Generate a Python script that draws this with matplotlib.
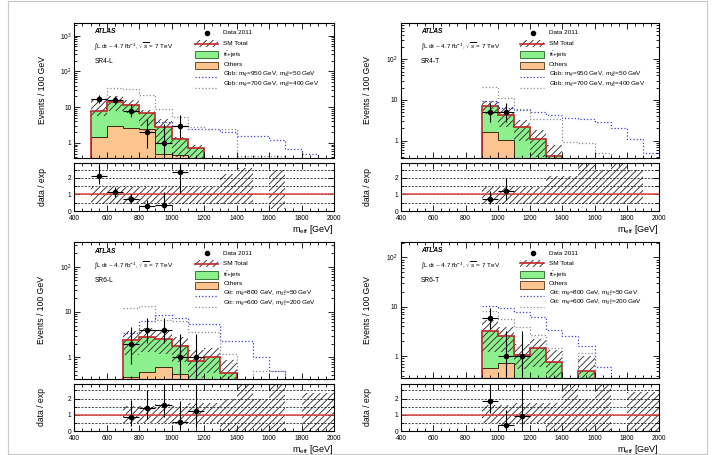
import numpy as np
import matplotlib
matplotlib.use('Agg')
import matplotlib.pyplot as plt
from matplotlib.patches import Rectangle
from matplotlib.ticker import FixedLocator, NullFormatter, MultipleLocator, LogLocator, FuncFormatter

plt.rcParams['font.family'] = ['Liberation Sans', 'DejaVu Sans']
plt.rcParams['mathtext.fontset'] = 'custom'
plt.rcParams['mathtext.rm'] = 'Liberation Sans'
plt.rcParams['mathtext.it'] = 'Liberation Sans:italic'
plt.rcParams['mathtext.bf'] = 'Liberation Sans:bold'
plt.rcParams['hatch.linewidth'] = 0.65

nan = float('nan')
bin_edges = list(range(400, 2001, 100))   # 16 bins of 100 GeV

# ---------------- SR4-L ----------------
sr4l_others = [0, 1.5, 2.9, 2.7, 2.4, 0.5, 0.45, 0, 0, 0, 0, 0, 0, 0, 0, 0]
sr4l_ttbar = [0, 6.5, 11.4, 8.8, 4.3, 2.35, 0.82, 0.71, 0, 0, 0, 0, 0, 0, 0, 0]
sr4l_band_hi = [nan, 16, 21, 16, 8.5, 4.6, 1.45, 0.88, nan, nan, nan, nan, nan, nan, nan, nan]
sr4l_band_lo = [nan, 5.5, 8.0, 6.8, 3.0, 1.0, 0.4, 0.2, nan, nan, nan, nan, nan, nan, nan, nan]
sr4l_data_x = [550, 650, 750, 850, 950, 1050]
sr4l_data_y = [17, 16, 8, 2, 1, 3]
sr4l_err_lo = [4.08, 3.96, 2.77, 1.29, 0.83, 1.63]
sr4l_err_hi = [5.2, 5.1, 3.94, 2.64, 2.3, 2.92]
sr4l_sig1 = [nan, nan, nan, nan, nan, 3.9, 3.0, 2.5, 2.4, 2.0, 1.6, 1.6, 1.2, 0.68, 0.48, 0.1]
sr4l_sig2 = [nan, 16.5, 35, 33, 22, 9, 5.2, 2.8, 2.4, 2.4, 0.42, 0.42, 0.42, 0.1, nan, nan]
sr4l_rband_hi = [nan, 1.45, 1.45, 1.45, 1.45, 1.45, 1.45, 1.45, 1.45, 2.25, 2.6, nan, 2.45, nan, nan, nan]
sr4l_rband_lo = [nan, 0.4, 0.4, 0.4, 0.4, 0.4, 0.4, 0.4, 0.4, 0.4, 0.4, nan, 0.1, nan, nan, nan]

# ---------------- SR4-T ----------------
sr4t_others = [0, 0, 0, 0, 0, 1.66, 1.04, 0, 0, 0, 0, 0, 0, 0, 0, 0]
sr4t_ttbar = [0, 0, 0, 0, 0, 5.34, 3.16, 2.2, 1.08, 0.43, 0, 0, 0, 0, 0, 0]
sr4t_band_hi = [nan, nan, nan, nan, nan, 9.6, 6.6, 3.3, 1.85, 0.78, nan, nan, nan, nan, nan, nan]
sr4t_band_lo = [nan, nan, nan, nan, nan, 4.4, 2.2, 1.0, 0.4, 0.1, nan, nan, nan, nan, nan, nan]
sr4t_data_x = [950, 1050]
sr4t_data_y = [5, 5]
sr4t_err_lo = [2.16, 2.16]
sr4t_err_hi = [3.38, 3.38]
sr4t_sig1 = [nan, nan, nan, nan, nan, 9.5, 6.5, 5.7, 5.0, 4.3, 3.7, 3.5, 2.8, 2.0, 1.1, 0.5]
sr4t_sig2 = [nan, nan, nan, nan, nan, 20.5, 11, 6.0, 3.5, 3.5, 0.93, 0.9, 0.5, 0.1, nan, nan]
sr4t_rband_hi = [nan, nan, nan, nan, nan, 1.45, 1.45, 1.45, 1.45, 2.1, 2.1, 3.0, 2.5, 3.0, 2.5, nan]
sr4t_rband_lo = [nan, nan, nan, nan, nan, 0.4, 0.4, 0.4, 0.4, 0.4, 0.4, 0.4, 0.4, 0.4, 0.4, nan]

# ---------------- SR6-L ----------------
sr6l_others = [0, 0, 0, 0.37, 0.47, 0.62, 0.42, 0, 0, 0, 0, 0, 0, 0, 0, 0]
sr6l_ttbar = [0, 0, 0, 2.03, 2.33, 1.88, 1.38, 0.82, 1.0, 0.45, 0, 0, 0, 0, 0, 0]
sr6l_band_hi = [nan, nan, nan, 3.7, 4.4, 4.0, 2.85, 1.45, 1.58, 0.87, nan, nan, nan, nan, nan, nan]
sr6l_band_lo = [nan, nan, nan, 1.1, 1.3, 1.15, 0.8, 0.35, 0.45, 0.2, nan, nan, nan, nan, nan, nan]
sr6l_data_x = [750, 850, 950, 1050, 1150]
sr6l_data_y = [2, 4, 4, 1, 1]
sr6l_err_lo = [1.29, 1.91, 1.91, 0.83, 0.83]
sr6l_err_hi = [2.64, 3.16, 3.16, 2.3, 2.3]
sr6l_sig1 = [nan, nan, nan, 3.5, 6.3, 8.6, 7.3, 5.5, 5.5, 2.3, 2.3, 1.0, 0.5, 0.1, nan, nan]
sr6l_sig2 = [nan, nan, nan, 12.5, 13.2, 6.8, 6.2, 3.6, 3.6, 1.16, 0.1, 0.5, 0.5, 0.1, nan, nan]
sr6l_rband_hi = [nan, nan, nan, 1.55, 1.55, 1.65, 1.55, 1.7, 1.7, 2.0, 3.0, 2.0, 3.0, nan, 2.35, 2.35]
sr6l_rband_lo = [nan, nan, nan, 0.48, 0.48, 0.48, 0.48, 0.5, 0.5, 0.0, 0.0, 0.0, 0.0, nan, 0.0, 0.0]

# ---------------- SR6-T ----------------
sr6t_others = [0, 0, 0, 0, 0, 0.58, 0.73, 0, 0, 0, 0, 0, 0, 0, 0, 0]
sr6t_ttbar = [0, 0, 0, 0, 0, 2.62, 1.81, 1.05, 1.43, 0.75, 0, 0.5, 0, 0, 0, 0]
sr6t_band_hi = [nan, nan, nan, nan, nan, 5.4, 3.9, 1.73, 2.2, 1.32, nan, 1.0, nan, nan, nan, nan]
sr6t_band_lo = [nan, nan, nan, nan, nan, 1.2, 1.2, 0.55, 0.6, 0.3, nan, 0.2, nan, nan, nan, nan]
sr6t_data_x = [950, 1050, 1150]
sr6t_data_y = [6, 1, 1]
sr6t_err_lo = [2.38, 0.83, 0.83]
sr6t_err_hi = [3.58, 2.3, 2.3]
sr6t_sig1 = [nan, nan, nan, nan, nan, 10.3, 9.3, 7.7, 6.2, 3.4, 2.5, 1.6, 0.6, 0.1, nan, nan]
sr6t_sig2 = [nan, nan, nan, nan, nan, 8.3, 5.6, 3.9, 2.7, 1.43, 0.1, 1.17, 0.1, nan, nan, nan]
sr6t_rband_hi = [nan, nan, nan, nan, nan, 1.58, 1.58, 1.7, 1.7, 1.75, 3.0, 2.0, 3.0, nan, 2.4, 2.4]
sr6t_rband_lo = [nan, nan, nan, nan, nan, 0.48, 0.4, 0.5, 0.5, 0.0, 0.0, 0.0, 0.0, nan, 0.0, 0.0]

GREEN = '#8cf08c'
ORANGE = '#fcc48f'
RED = '#c0282a'
RRED = '#e04848'
BLUE = '#3c3cdc'
GREY = '#8c8c8c'
HATCH = '/////'

W, H = 715, 455


def rect(x0, x1, y0, y1):
    return [x0 / W, 1 - y1 / H, (x1 - x0) / W, (y1 - y0) / H]


def segments(vals):
    vals = np.asarray(vals, float)
    segs = []
    i = 0
    n = len(vals)
    while i < n:
        if np.isnan(vals[i]):
            i += 1
            continue
        j = i
        while j < n and not np.isnan(vals[j]):
            j += 1
        segs.append((i, j))
        i = j
    return segs


def style_axes(ax):
    ax.tick_params(which='both', direction='in', top=True, right=True, labelsize=4.8, pad=2, width=0.6)
    ax.tick_params(which='major', length=4)
    ax.tick_params(which='minor', length=2)
    for s in ax.spines.values():
        s.set_linewidth(0.8)


def logfmt(v, pos):
    if abs(v - 1) < 1e-9:
        return '1'
    if abs(v - 10) < 1e-9:
        return '10'
    e = int(round(np.log10(v)))
    return r'$10^{%d}$' % e


def legend(ax, lab1, lab2, ys):
    tr = ax.transAxes
    fs = 4.6
    x0, x1 = 0.463, 0.553
    xt = 0.574
    h = 0.052
    ax.plot([0.51], [ys[0]], 'o', color='k', ms=3.0, transform=tr, clip_on=False)
    ax.text(xt, ys[0], 'Data 2011', transform=tr, fontsize=fs, va='center')
    ax.add_patch(Rectangle((x0, ys[1] - h / 2), x1 - x0, h, transform=tr, fill=False,
                           hatch=HATCH, edgecolor='#333333', lw=0))
    ax.plot([x0, x1], [ys[1], ys[1]], color=RED, lw=1.2, transform=tr)
    ax.text(xt, ys[1], 'SM Total', transform=tr, fontsize=fs, va='center')
    ax.add_patch(Rectangle((x0, ys[2] - h / 2), x1 - x0, h, transform=tr, facecolor=GREEN,
                           edgecolor='#226622', lw=0.6))
    ax.text(xt, ys[2], r't$\bar{\rm t}$+jets', transform=tr, fontsize=fs, va='center')
    ax.add_patch(Rectangle((x0, ys[3] - h / 2), x1 - x0, h, transform=tr, facecolor=ORANGE,
                           edgecolor='#553311', lw=0.6))
    ax.text(xt, ys[3] + 0.01, 'Others', transform=tr, fontsize=fs, va='center')
    ax.plot([x0, x1], [ys[5], ys[5]], color=BLUE, ls=':', lw=0.9, transform=tr)
    ax.text(xt, ys[4], lab1, transform=tr, fontsize=fs, va='center')
    ax.plot([x0, x1], [ys[7], ys[7]], color=GREY, ls=':', lw=0.9, transform=tr)
    ax.text(xt, ys[6], lab2, transform=tr, fontsize=fs, va='center')


def panel(fig, rm, rr, region, others, ttbar, band_hi, band_lo, dx, dy, elo, ehi,
          sig1, sig2, rhi, rlo, ylim, lab1, lab2, ylab_x, txt_ys, leg_ys):
    edges = np.array(bin_edges, float)
    centers = 0.5 * (edges[:-1] + edges[1:])
    others = np.array(others, float)
    ttbar = np.array(ttbar, float)
    total = others + ttbar
    floor = 1e-4
    o_p = np.where(others > 0, others, floor)
    t_p = np.where(total > 0, total, floor)

    ax = fig.add_axes(rm)
    ax.set_yscale('log')
    ax.stairs(o_p, edges, baseline=floor, fill=True, color=ORANGE, lw=0)
    ax.stairs(t_p, edges, baseline=o_p, fill=True, color=GREEN, lw=0)
    bh = np.array(band_hi, float)
    bl = np.array(band_lo, float)
    m = ~np.isnan(bh)
    ax.bar(centers[m], (bh - bl)[m], bottom=bl[m], width=100, fill=False, hatch=HATCH,
           edgecolor='#303030', lw=0)
    ax.stairs(o_p, edges, baseline=floor, color='#3a2a10', lw=0.7)
    ax.stairs(t_p, edges, baseline=floor, color=RED, lw=1.2)
    for vals, col in ((sig1, BLUE), (sig2, GREY)):
        v = np.array(vals, float)
        for i, j in segments(v):
            ax.stairs(v[i:j], edges[i:j + 1], baseline=None, color=col, ls=':', lw=0.9)
    ax.errorbar(dx, dy, xerr=50, yerr=[elo, ehi], fmt='o', color='k', ms=3.0,
                elinewidth=0.8, capsize=0)
    ax.set_xlim(400, 2000)
    ax.set_ylim(*ylim)
    ax.yaxis.set_major_locator(LogLocator(base=10, numticks=10))
    ax.yaxis.set_major_formatter(FuncFormatter(logfmt))
    ax.yaxis.set_minor_locator(LogLocator(base=10, subs=np.arange(2, 10), numticks=20))
    ax.yaxis.set_minor_formatter(NullFormatter())
    ax.xaxis.set_major_locator(MultipleLocator(200))
    ax.xaxis.set_minor_locator(MultipleLocator(50))
    ax.set_xticklabels([])
    style_axes(ax)
    ax.set_ylabel('Events / 100 GeV', fontsize=6.2)
    ax.yaxis.set_label_coords(ylab_x, 0.5)
    ax.text(0.077, txt_ys[0], 'ATLAS', transform=ax.transAxes, fontsize=4.8,
            fontweight='bold', style='italic', va='center')
    ax.text(0.077, txt_ys[1], r'$\int$L dt ~ 4.7 fb$^{-1}$, $\sqrt{s}$ = 7 TeV',
            transform=ax.transAxes, fontsize=4.6, va='center')
    ax.text(0.077, txt_ys[2], region, transform=ax.transAxes, fontsize=4.8, va='center')
    legend(ax, lab1, lab2, leg_ys)

    # ratio panel
    axr = fig.add_axes(rr)
    rh = np.array(rhi, float)
    rl = np.array(rlo, float)
    m = ~np.isnan(rh)
    axr.bar(centers[m], (rh - rl)[m], bottom=rl[m], width=100, fill=False, hatch=HATCH,
            edgecolor='#303030', lw=0)
    for yv in (0.5, 1.0, 1.5, 2.0, 2.5):
        axr.axhline(yv, color='k', ls=(0, (3, 2)), lw=0.5)
    axr.axhline(1.0, color=RRED, lw=1.1)
    idx = ((np.array(dx) - 400) // 100).astype(int)
    tot = total[idx]
    ratio = np.array(dy, float) / tot
    axr.errorbar(dx, ratio, xerr=50, yerr=[np.array(elo) / tot, np.array(ehi) / tot],
                 fmt='o', color='k', ms=3.0, elinewidth=0.8, capsize=0)
    axr.set_xlim(400, 2000)
    axr.set_ylim(0, 2.9)
    axr.yaxis.set_major_locator(FixedLocator([0, 1, 2]))
    axr.yaxis.set_minor_locator(MultipleLocator(0.5))
    axr.xaxis.set_major_locator(MultipleLocator(200))
    axr.xaxis.set_minor_locator(MultipleLocator(50))
    style_axes(axr)
    axr.tick_params(axis='x', pad=3.2)
    axr.set_ylabel('data / exp', fontsize=6.2)
    axr.yaxis.set_label_coords(ylab_x, 0.5)
    axr.set_xlabel(r'm$_{\rm eff}$ [GeV]', fontsize=6.5, loc='right', labelpad=0.5)


fig = plt.figure(figsize=(7.15, 4.55), dpi=100)
fig.add_artist(Rectangle((8 / W, 1 / H), (707 - 8) / W, (H - 2) / H, transform=fig.transFigure,
                         fill=False, edgecolor='#c8c8c8', lw=0.8))

gbb1 = r'Gbb: m$_{\tilde{g}}$=950 GeV, m$_{\tilde{\chi}^{0}_{1}}$=50 GeV'
gbb2 = r'Gbb: m$_{\tilde{g}}$=700 GeV, m$_{\tilde{\chi}^{0}_{1}}$=400 GeV'
gtt1 = r'Gtt: m$_{\tilde{g}}$=800 GeV, m$_{\tilde{\chi}^{0}_{1}}$=50 GeV'
gtt2 = r'Gtt: m$_{\tilde{g}}$=600 GeV, m$_{\tilde{\chi}^{0}_{1}}$=200 GeV'

top_txt = (0.936, 0.83, 0.713)
bot_txt = (0.934, 0.832, 0.72)
top_leg = (0.926, 0.847, 0.765, 0.683, 0.625, 0.598, 0.548, 0.518)
bot_leg = (0.918, 0.842, 0.759, 0.684, 0.628, 0.603, 0.555, 0.525)

panel(fig, rect(74.3, 334, 23, 158), rect(74.3, 334, 163, 211), 'SR4-L',
      sr4l_others, sr4l_ttbar, sr4l_band_hi, sr4l_band_lo, sr4l_data_x, sr4l_data_y,
      sr4l_err_lo, sr4l_err_hi, sr4l_sig1, sr4l_sig2, sr4l_rband_hi, sr4l_rband_lo,
      (0.38, 2250), gbb1, gbb2, -0.105, top_txt, top_leg)
panel(fig, rect(401, 659, 23, 158), rect(401, 659, 163, 211), 'SR4-T',
      sr4t_others, sr4t_ttbar, sr4t_band_hi, sr4t_band_lo, sr4t_data_x, sr4t_data_y,
      sr4t_err_lo, sr4t_err_hi, sr4t_sig1, sr4t_sig2, sr4t_rband_hi, sr4t_rband_lo,
      (0.375, 780), gbb1, gbb2, -0.112, top_txt, top_leg)
panel(fig, rect(74.3, 334, 242, 379), rect(74.3, 334, 384, 431), 'SR6-L',
      sr6l_others, sr6l_ttbar, sr6l_band_hi, sr6l_band_lo, sr6l_data_x, sr6l_data_y,
      sr6l_err_lo, sr6l_err_hi, sr6l_sig1, sr6l_sig2, sr6l_rband_hi, sr6l_rband_lo,
      (0.33, 350), gtt1, gtt2, -0.11, bot_txt, bot_leg)
panel(fig, rect(401, 659, 242, 378), rect(401, 659, 384, 431), 'SR6-T',
      sr6t_others, sr6t_ttbar, sr6t_band_hi, sr6t_band_lo, sr6t_data_x, sr6t_data_y,
      sr6t_err_lo, sr6t_err_hi, sr6t_sig1, sr6t_sig2, sr6t_rband_hi, sr6t_rband_lo,
      (0.36, 205), gtt1, gtt2, -0.112, bot_txt, bot_leg)

fig.savefig('out.png', dpi=100)
